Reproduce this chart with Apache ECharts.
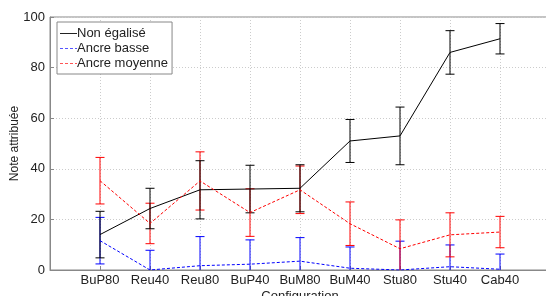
<!DOCTYPE html>
<html>
<head>
<meta charset="utf-8">
<script src="https://cdn.jsdelivr.net/npm/echarts@6/dist/echarts.min.js"></script>
<style>
  html, body { margin: 0; padding: 0; background: #fff; }
  #chart { width: 546px; height: 296px; }
</style>
</head>
<body>
<div id="chart"></div>
<script>
// configurations (positions 1..9 on the x axis)
const categories = ['BuP80', 'Reu40', 'Reu80', 'BuP40', 'BuM80', 'BuM40', 'Stu80', 'Stu40', 'Cab40'];
const yTicks = [0, 20, 40, 60, 80, 100];

// Non égalisé : moyenne et demi-écart
const nonEgalise = [14, 24.3, 31.7, 32, 32.3, 51, 53, 86, 91.4];
const nonEgaliseErr = [9.2, 8, 11.5, 9.4, 9.3, 8.5, 11.4, 8.6, 6];

// Ancre basse
const ancreBasse = [11.6, 0, 1.7, 2.3, 3.5, 0.7, 0, 1.3, 0.3];
const ancreBasseErr = [9.2, 7.8, 11.5, 9.6, 9.3, 8.4, 11.4, 8.6, 6];

// Ancre moyenne
const ancreMoyenne = [35.3, 18.4, 35.2, 22.7, 31.7, 18.3, 8.4, 13.9, 15];
const ancreMoyenneErr = [9.2, 8, 11.5, 9.4, 9.4, 8.6, 11.4, 8.7, 6.2];

const FONT = "'Liberation Sans', Arial, Helvetica, sans-serif";

// icônes de légende (trait plein / tirets)
const SOLID_ICON = 'path://M0,0H17V1H0Z';
const DASH_ICON = 'path://M0,0H3V1H0Z M5,0H8V1H5Z M10,0H13V1H10Z M15,0H17V1H15Z';

const chart = echarts.init(document.getElementById('chart'));

function points(values) {
    return values.map((v, i) => [i + 1, v]);
}

// barres d'erreur : [x, moyenne, erreur]
function errorSeries(name, values, errs, color) {
    return {
        name: name + ' err',
        type: 'custom',
        z: 3,
        data: values.map((v, i) => [i + 1, v, errs[i]]),
        renderItem: (params, api) => {
            const x = api.value(0);
            const mean = api.value(1);
            const err = api.value(2);
            let lo = mean - err;
            let hi = mean + err;
            const loClipped = lo < 0;
            const hiClipped = hi > 100;
            if (loClipped) lo = 0;
            if (hiClipped) hi = 100;
            const pLo = api.coord([x, lo]);
            const pHi = api.coord([x, hi]);
            const w = 4.5;
            const style = { stroke: color, lineWidth: 1 };
            const children = [
                { type: 'line', shape: { x1: pLo[0], y1: pLo[1], x2: pHi[0], y2: pHi[1] }, style: style }
            ];
            if (!hiClipped) {
                children.push({ type: 'line', shape: { x1: pHi[0] - w, y1: pHi[1], x2: pHi[0] + w, y2: pHi[1] }, style: style });
            }
            if (!loClipped) {
                children.push({ type: 'line', shape: { x1: pLo[0] - w, y1: pLo[1], x2: pLo[0] + w, y2: pLo[1] }, style: style });
            }
            return { type: 'group', children: children };
        },
    };
}

const option = {
    backgroundColor: '#fff',
    animation: false,
    textStyle: { fontFamily: FONT },
    grid: {
        left: 50,
        right: -4,
        top: 17,
        bottom: 26,
        outerBoundsMode: 'none',
        containLabel: false,
        show: true,
        borderColor: '#888',
        borderWidth: 1,
    },
    legend: {
        orient: 'vertical',
        left: 57,
        top: 22,
        data: [
            { name: 'Non égalisé', icon: SOLID_ICON, itemStyle: { color: '#222' } },
            { name: 'Ancre basse', icon: DASH_ICON, itemStyle: { color: '#5555ff' } },
            { name: 'Ancre moyenne', icon: DASH_ICON, itemStyle: { color: '#ff5555' } },
        ],
        backgroundColor: '#fff',
        borderColor: '#888',
        borderWidth: 1,
        borderRadius: 0,
        padding: [5, 4, 4, 3],
        itemWidth: 17,
        itemHeight: 1,
        itemGap: 2,
        textStyle: { fontSize: 13, color: '#222', padding: [0, 0, 0, -5], lineHeight: 13 },
    },
    xAxis: {
        type: 'value',
        min: 0,
        max: 10,
        interval: 1,
        name: 'Configuration',
        nameLocation: 'middle',
        nameGap: 20,
        nameMoveOverlap: false,
        nameTextStyle: { fontSize: 13, color: '#222' },
        axisLine: { lineStyle: { color: '#888' } },
        axisTick: { inside: true, length: 4, lineStyle: { color: '#888' } },
        axisLabel: {
            fontSize: 13,
            color: '#222',
            margin: 4,
            formatter: (v) => categories[v - 1] || '',
        },
        splitLine: { show: true, lineStyle: { color: '#ccc', type: [1, 2] } },
    },
    yAxis: {
        type: 'value',
        min: yTicks[0],
        max: yTicks[yTicks.length - 1],
        interval: 20,
        name: 'Note attribuée',
        nameLocation: 'middle',
        nameGap: 29,
        nameMoveOverlap: false,
        nameTextStyle: { fontSize: 12, color: '#222' },
        axisLine: { show: true, lineStyle: { color: '#888' } },
        axisTick: { show: true, inside: true, length: 4, lineStyle: { color: '#888' } },
        axisLabel: { fontSize: 13, color: '#222', margin: 5 },
        splitLine: { show: true, lineStyle: { color: '#ccc', type: [1, 2] } },
    },
    series: [
        {
            name: 'Non égalisé',
            type: 'line',
            data: points(nonEgalise),
            symbol: 'none',
            z: 4,
            lineStyle: { color: '#000', width: 1 },
            itemStyle: { color: '#000' },
        },
        {
            name: 'Ancre basse',
            type: 'line',
            data: points(ancreBasse),
            symbol: 'none',
            z: 4,
            lineStyle: { color: '#0000ff', width: 1, type: [3, 2] },
            itemStyle: { color: '#0000ff' },
        },
        {
            name: 'Ancre moyenne',
            type: 'line',
            data: points(ancreMoyenne),
            symbol: 'none',
            z: 4,
            lineStyle: { color: '#ff0000', width: 1, type: [3, 2] },
            itemStyle: { color: '#ff0000' },
        },
        errorSeries('Ancre basse', ancreBasse, ancreBasseErr, '#0000ff'),
        errorSeries('Ancre moyenne', ancreMoyenne, ancreMoyenneErr, '#ff0000'),
        errorSeries('Non égalisé', nonEgalise, nonEgaliseErr, '#000'),
    ],
};

chart.setOption(option);
</script>
</body>
</html>
